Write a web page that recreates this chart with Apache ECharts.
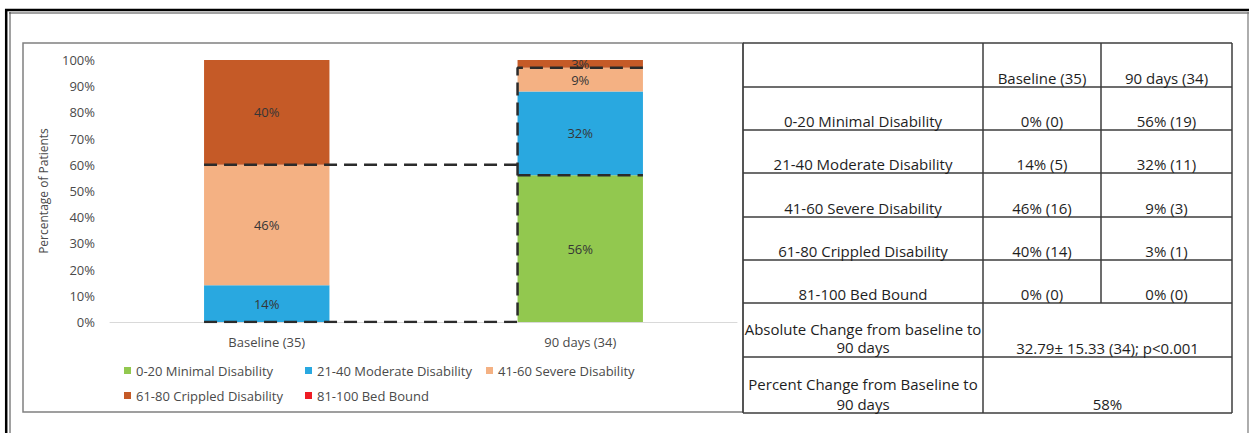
<!DOCTYPE html>
<html><head><meta charset="utf-8">
<script src="https://cdn.jsdelivr.net/npm/echarts@6/dist/echarts.min.js"></script>
<style>html,body{margin:0;padding:0;background:#fff}#c{width:1249px;height:433px}</style>
</head><body><div id="c"></div>
<script>
// ---------- data ----------
const timepoints = ['Baseline (35)', '90 days (34)'];
const levels = ['0-20 Minimal Disability', '21-40 Moderate Disability', '41-60 Severe Disability', '61-80 Crippled Disability', '81-100 Bed Bound'];
const baselinePct = [0, 14, 46, 40, 0];
const day90Pct = [56, 32, 9, 3, 0];
const baselineN = [0, 5, 16, 14, 0];
const day90N = [19, 11, 3, 1, 0];
const yTickMin = 0, yTickMax = 100, yTickStep = 10;
const changeLabels = ['Absolute Change from baseline to\n90 days', 'Percent Change from Baseline to\n90 days'];
const changeValues = ['32.79\u00b1 15.33 (34); p<0.001', '58%'];
const axisTitle = 'Percentage of Patients';

// ---------- style / layout ----------
const colors = ['#92c84f', '#29a8e0', '#f4b183', '#c55a27', '#ee1c25'];
const FONT = '"Open Sans", "Liberation Sans", sans-serif';
const TXT = '#4a4a4a';
const barFrac = 0.4;
const legendLeft = [124, 305, 486, 124, 305];
const legendTop = [364, 364, 364, 389, 389];
const tableX = [743, 983, 1101, 1232];
const tableY = [43, 87, 130, 173, 217, 260, 303, 357, 413];

function cum(a) { let s = 0; return a.map(v => (s += v)); }
const cumB = cum(baselinePct), cumD = cum(day90Pct);
const h = barFrac / 2;

const series = levels.map((name, i) => ({
  name, type: 'bar', stack: 'total', barWidth: (barFrac * 100) + '%',
  data: [baselinePct[i], day90Pct[i]],
  itemStyle: { color: colors[i] },
  label: {
    show: true, position: 'inside', color: '#363636', fontSize: 13, fontFamily: FONT,
    formatter: p => p.value > 0 ? p.value + '%' : ''
  },
  z: 2
}));

// dashed connector lines derived from cumulative values and bar edges
const dashPaths = [
  [[0 - h, cumB[2]], [1 - h, cumB[2]]],
  [[0 - h, 0], [1 - h, 0], [1 - h, cumD[2]], [1 + h, cumD[2]]],
  [[1 - h, cumD[0]], [1 + h, cumD[0]]]
];
dashPaths.forEach(d => series.push({
  type: 'line', xAxisIndex: 1, yAxisIndex: 0, data: d, symbol: 'none', silent: true,
  lineStyle: { color: '#2b2b2b', width: 2.5, type: [13, 7] }, z: 10, animation: false
}));

const legends = levels.map((name, i) => ({
  data: [name], left: legendLeft[i], top: legendTop[i], padding: 0, icon: 'rect', itemWidth: 7, itemHeight: 7,
  textStyle: { color: TXT, fontSize: 13, fontFamily: FONT }, selectedMode: false
}));

// table graphics
const g = [];
const LC = '#3d3d3d';
function hline(y, x1, x2, w, c) { g.push({ type: 'line', shape: { x1, y1: y, x2, y2: y }, style: { stroke: c || LC, lineWidth: w || 1.5 }, silent: true }); }
function vline(x, y1, y2, w, c) { g.push({ type: 'line', shape: { x1: x, y1, x2: x, y2 }, style: { stroke: c || LC, lineWidth: w || 1.5 }, silent: true }); }
function txt(s, x, y, lh) {
  g.push({ type: 'text', x, y, silent: true, style: { text: s, fill: '#1e1e1e', font: '15px ' + FONT, align: 'center', verticalAlign: 'middle', lineHeight: lh || 19 } });
}
// outer frame
hline(10, 5, 1249, 2.5, '#000');
vline(6.2, 9, 433, 2.5, '#000');
hline(13, 9, 1249, 1, '#444');
vline(10, 12, 433, 1, '#444');
vline(1248, 12, 433, 1.2, '#777');
// chart panel border
g.push({ type: 'rect', shape: { x: 23, y: 43, width: tableX[0] - 23, height: 412 - 43 }, style: { fill: 'none', stroke: '#808080', lineWidth: 1.5 }, silent: true, z: -1 });
// table lines
tableY.forEach(y => hline(y, tableX[0], tableX[3]));
vline(tableX[0], tableY[0], tableY[8]);
vline(tableX[1], tableY[0], tableY[8]);
vline(tableX[2], tableY[0], tableY[6]);
vline(tableX[3], tableY[0], tableY[8]);
const c0 = (tableX[0] + tableX[1]) / 2, c1 = (tableX[1] + tableX[2]) / 2, c2 = (tableX[2] + tableX[3]) / 2, c12 = (tableX[1] + tableX[3]) / 2;
txt(timepoints[0], c1, tableY[1] - 9);
txt(timepoints[1], c2, tableY[1] - 9);
levels.forEach((name, i) => {
  const y = tableY[i + 2] - 9;
  txt(name, c0, y);
  txt(baselinePct[i] + '% (' + baselineN[i] + ')', c1, y);
  txt(day90Pct[i] + '% (' + day90N[i] + ')', c2, y);
});
txt(changeLabels[0], c0, tableY[7] - 19, 18);
txt(changeValues[0], c12, tableY[7] - 9);
txt(changeLabels[1], c0, tableY[8] - 19, 20);
txt(changeValues[1], c12, tableY[8] - 9);

const chart = echarts.init(document.getElementById('c'), null, { renderer: 'svg' });
chart.setOption({
  animation: false,
  backgroundColor: '#fff',
  grid: { left: 110, right: 1249 - 737, top: 60, bottom: 433 - 322 },
  legend: legends,
  xAxis: [
    { type: 'category', data: timepoints, axisLine: { lineStyle: { color: '#d9d9d9', width: 1 } }, axisTick: { show: false },
      axisLabel: { color: TXT, fontSize: 13, fontFamily: FONT, margin: 13 } },
    { type: 'value', min: -0.5, max: 1.5, show: false }
  ],
  yAxis: { type: 'value', min: yTickMin, max: yTickMax, interval: yTickStep,
    axisLabel: { formatter: '{value}%', color: TXT, fontSize: 13, fontFamily: FONT, margin: 15 },
    axisLine: { show: false }, axisTick: { show: false }, splitLine: { show: false },
    name: axisTitle, nameLocation: 'middle', nameGap: 61, nameRotate: 90,
    nameTextStyle: { color: TXT, fontSize: 12, fontFamily: FONT } },
  series,
  graphic: g
});
</script></body></html>
